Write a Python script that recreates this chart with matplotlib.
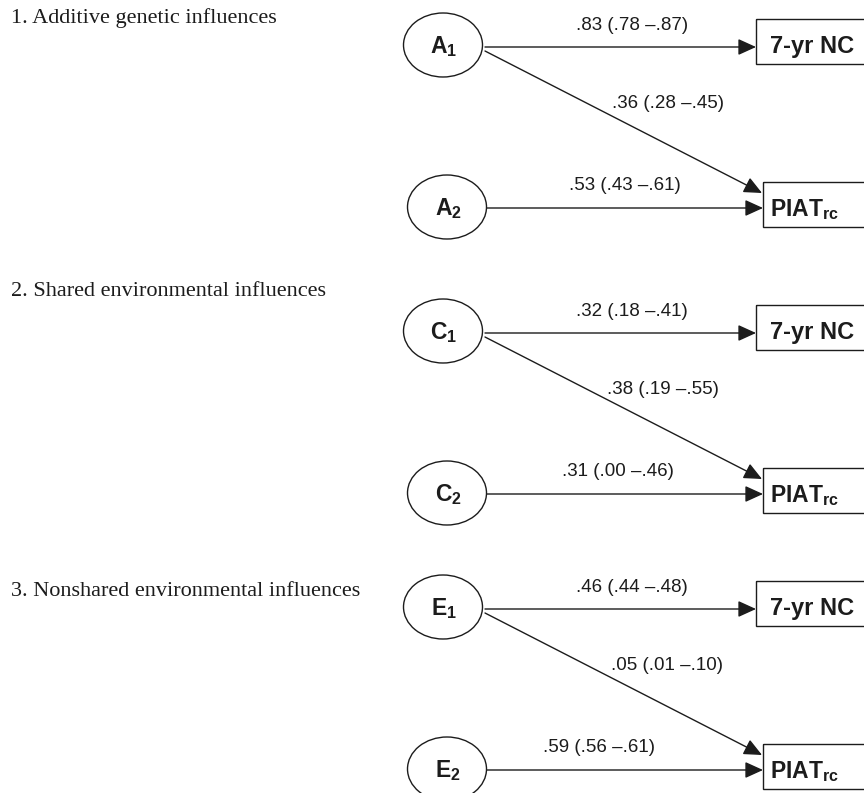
import matplotlib
matplotlib.use('Agg')
import matplotlib.pyplot as plt
from matplotlib.patches import Ellipse, Rectangle

plt.rcParams['mathtext.fontset'] = 'custom'
plt.rcParams['mathtext.rm'] = 'Liberation Sans'
plt.rcParams['mathtext.bf'] = 'Liberation Sans:bold'

# ---- data ----
headers = ['1. Additive genetic influences',
           '2. Shared environmental influences',
           '3. Nonshared environmental influences']
factors = ['A', 'C', 'E']
# path estimates (95% CI) : factor1 -> 7-yr NC, factor1 -> PIAT, factor2 -> PIAT
nc_est = [.83, .32, .46]
nc_lo = [.78, .18, .44]
nc_hi = [.87, .41, .48]
cross_est = [.36, .38, .05]
cross_lo = [.28, .19, .01]
cross_hi = [.45, .55, .10]
piat_est = [.53, .31, .59]
piat_lo = [.43, .00, .56]
piat_hi = [.61, .46, .61]

# ---- layout (pixel units) ----
panel_y = [0, 286, 562]
header_y = [18, 292, 592]
lab_x = [(632, 668, 625), (632, 663, 618), (632, 667, 599)]

ink = '#1c1c1c'
sans = 'Liberation Sans'


def fmt(v):
    return ('%.2f' % v)[1:]


def lab(e, lo, hi):
    return '%s (%s \u2013%s)' % (fmt(e), fmt(lo), fmt(hi))


def arrow(ax, x0, y0, x1, y1):
    ax.annotate('', xy=(x1, y1), xytext=(x0, y0),
                arrowprops=dict(arrowstyle='-|>,head_length=1.1,head_width=0.5',
                                lw=1.0, color=ink, shrinkA=0, shrinkB=0))


fig = plt.figure(figsize=(8.64, 7.93), dpi=100)
ax = fig.add_axes([0, 0, 1, 1])
ax.set_xlim(0, 864)
ax.set_ylim(793, 0)
ax.axis('off')

for i in range(3):
    oy = panel_y[i]
    ax.text(11, header_y[i], headers[i], family='Liberation Serif', fontsize=16,
            ha='left', va='center', color=ink)

    # latent factors
    ax.add_patch(Ellipse((443, 45 + oy), 79, 64, fill=False, lw=1.0, ec=ink))
    ax.add_patch(Ellipse((447, 207 + oy), 79, 64, fill=False, lw=1.0, ec=ink))
    ax.text(444, 47 + oy, r'$\mathbf{%s}_{\mathbf{1}}$' % factors[i], fontsize=16.5,
            ha='center', va='center', color=ink)
    ax.text(448, 209 + oy, r'$\mathbf{%s}_{\mathbf{2}}$' % factors[i], fontsize=16.5,
            ha='center', va='center', color=ink)

    # observed measures
    ax.add_patch(Rectangle((756, 19 + oy), 120, 45, fill=False, lw=1.0, ec=ink))
    ax.add_patch(Rectangle((763, 182 + oy), 120, 45, fill=False, lw=1.0, ec=ink))
    ax.text(770, 53 + oy, '7-yr NC', family=sans, weight='bold', fontsize=17,
            ha='left', va='baseline', color=ink)
    ax.text(770, 216 + oy, r'$\mathbf{PIAT}_{\mathbf{rc}}$', fontsize=16.5,
            ha='left', va='baseline', color=ink)

    # paths
    arrow(ax, 485, 47 + oy, 756, 47 + oy)
    arrow(ax, 485, 51 + oy, 762, 193 + oy)
    arrow(ax, 487, 208 + oy, 763, 208 + oy)

    lx = lab_x[i]
    ax.text(lx[0], 26 + oy, lab(nc_est[i], nc_lo[i], nc_hi[i]), family=sans,
            fontsize=13.5, ha='center', va='center', color=ink)
    ax.text(lx[1], 103 + oy, lab(cross_est[i], cross_lo[i], cross_hi[i]), family=sans,
            fontsize=13.5, ha='center', va='center', color=ink)
    ax.text(lx[2], 185 + oy, lab(piat_est[i], piat_lo[i], piat_hi[i]), family=sans,
            fontsize=13.5, ha='center', va='center', color=ink)

fig.savefig('out.png', dpi=100, facecolor='white')
